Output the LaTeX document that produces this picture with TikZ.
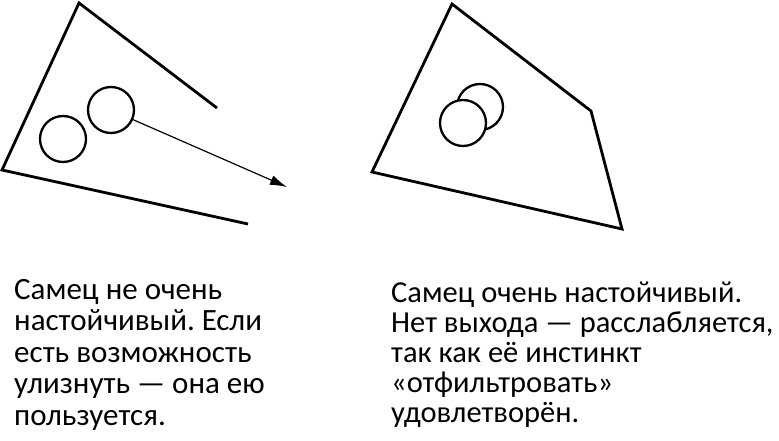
\documentclass[tikz,border=0pt]{standalone}
\usepackage{fontspec}
\setmainfont{Carlito}
\usetikzlibrary{arrows.meta}
\frenchspacing
\begin{document}
\begin{tikzpicture}[x=1pt,y=-1pt,
  wall/.style={line width=2.8pt,line join=miter},
  ball/.style={circle,draw,line width=2.3pt,minimum size=46pt,inner sep=0pt,fill=white},
  caption/.style={anchor=north west,inner sep=0pt,align=left}]
\useasboundingbox[fill=white] (0,0) rectangle (779,441);
% left figure
\draw[wall] (217,108) -- (79,3) -- (2,170) -- (248,224);
\node[ball] (a1) at (63,139) {};
\node[ball] (a2) at (111,110) {};
\coordinate (goal) at (287,187);
\draw[line width=1.2pt,-{Latex[length=17pt,width=10pt]}] (a2) -- (goal);
% right figure
\draw[wall] (452,4) -- (591,111) -- (622,229) -- (372,172) -- cycle;
\node[ball] (b1) at (480,107) {};
\node[ball] (b2) at (463,123) {};
% captions
\node[caption,font=\fontsize{31}{31.5}\selectfont] (t1) at (14,279) {Самец не очень\\настойчивый. Если\\есть возможность\\улизнуть — она ею\\пользуется.};
\node[caption,font=\fontsize{30.5}{30}\selectfont] (t2) at (391,282) {Самец очень настойчивый.\\Нет выхода — расслабляется,\\так как её инстинкт\\«отфильтровать»\\удовлетворён.};
\end{tikzpicture}
\end{document}
